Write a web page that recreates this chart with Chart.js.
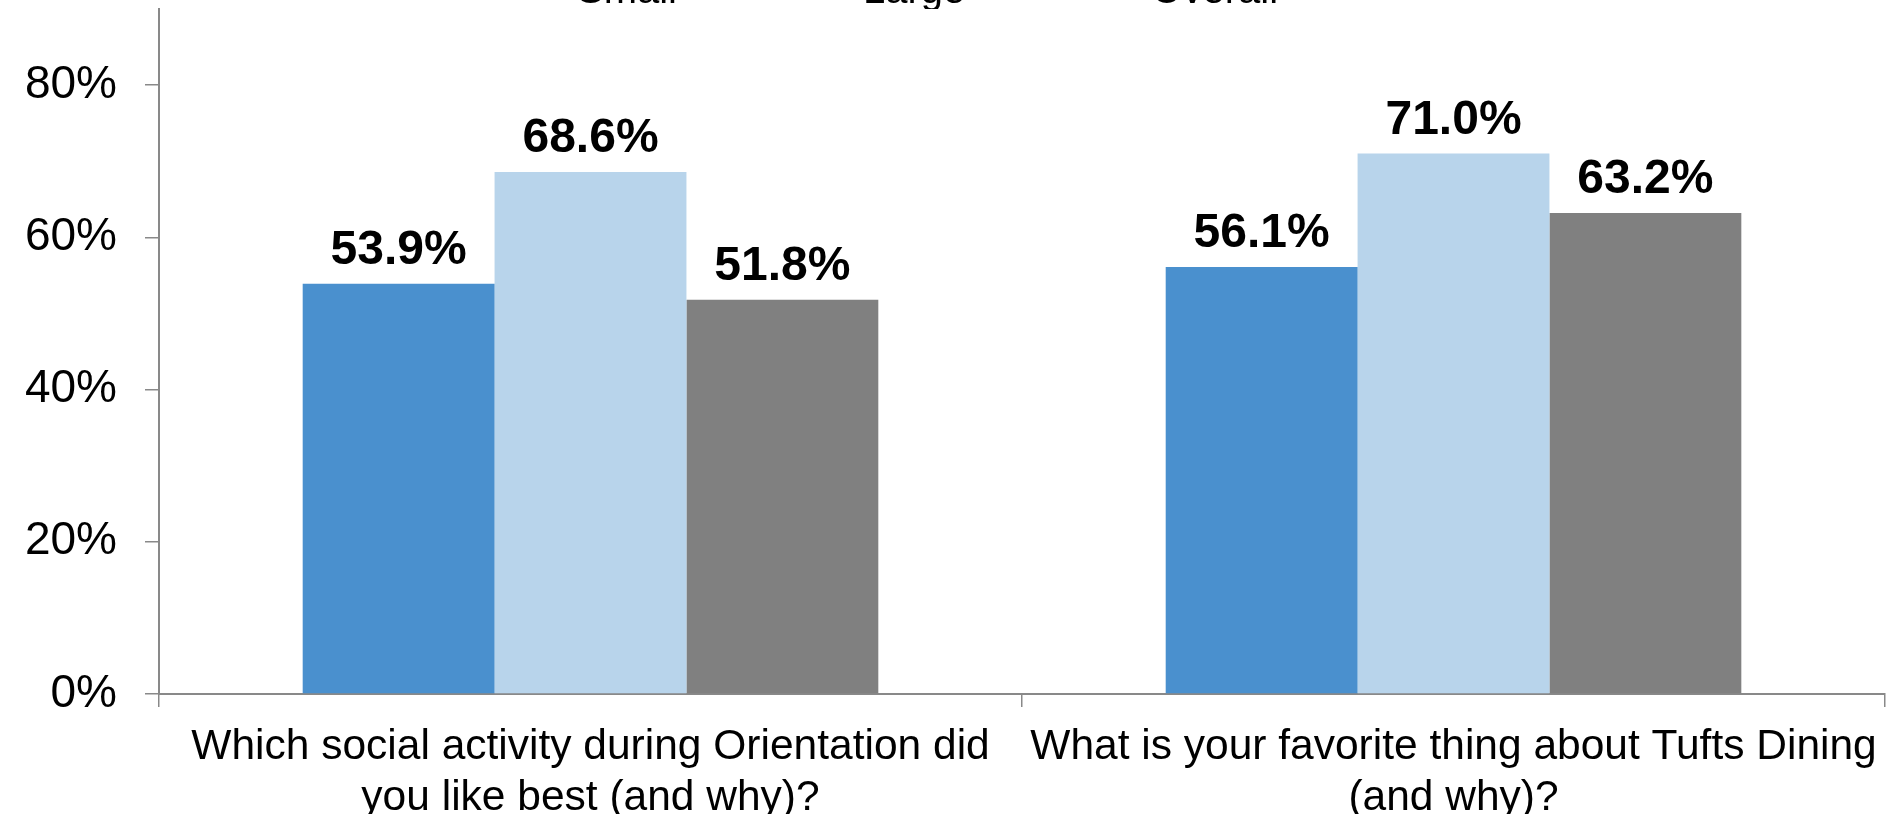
<!DOCTYPE html>
<html>
<head>
<meta charset="utf-8">
<script src="https://cdn.jsdelivr.net/npm/chart.js@4"></script>
<style>
  html, body { margin: 0; padding: 0; background: #fff; overflow: hidden; width: 1893px; height: 814px; }
  #wrap { position: relative; width: 1893px; height: 814px; overflow: hidden; }
  /* canvas pushed up/left so the legend sits mostly above the page like the original */
  #chart { position: absolute; left: -72px; top: -173px; }
</style>
</head>
<body>
<div id="wrap"><canvas id="chart" width="1965" height="1011"></canvas></div>
<script>
// chart data
const questions = [
    ['Which social activity during Orientation did', 'you like best (and why)?'],
    ['What is your favorite thing about Tufts Dining', '(and why)?']
];
const seriesNames = ['Small', 'Large', 'Overall'];
const smallValues = [53.9, 56.1];
const largeValues = [68.6, 71.0];
const overallValues = [51.8, 63.2];
const yTicks = [0, 20, 40, 60, 80];

const FONT = "'Liberation Sans', Arial, sans-serif";

// Draw the value labels above each bar
const barValueLabels = {
    id: 'barValueLabels',
    afterDatasetsDraw(chart) {
        const ctx = chart.ctx;
        ctx.save();
        ctx.font = 'bold 48px ' + FONT;
        ctx.fillStyle = '#000';
        ctx.textAlign = 'center';
        ctx.textBaseline = 'alphabetic';
        chart.data.datasets.forEach((ds, i) => {
            const meta = chart.getDatasetMeta(i);
            meta.data.forEach((bar, j) => {
                ctx.fillText(ds.data[j].toFixed(1) + '%', bar.x, bar.y - 20);
            });
        });
        ctx.restore();
    }
};

const ctx = document.getElementById('chart').getContext('2d');
const chart = new Chart(ctx, {
    type: 'bar',
    data: {
        labels: questions,
        datasets: [
            { label: seriesNames[0], data: smallValues, backgroundColor: '#4A90CE' },
            { label: seriesNames[1], data: largeValues, backgroundColor: '#B8D4EB' },
            { label: seriesNames[2], data: overallValues, backgroundColor: '#808080' }
        ]
    },
    options: {
        responsive: false,
        animation: false,
        devicePixelRatio: 1,
        layout: { padding: { left: 0, right: 7, top: 0, bottom: 0 } },
        datasets: {
            bar: { categoryPercentage: 0.667, barPercentage: 1.0, borderWidth: 0 }
        },
        plugins: {
            tooltip: { enabled: false },
            legend: {
                position: 'top',
                labels: {
                    color: '#000',
                    font: { family: FONT, size: 40 },
                    boxWidth: 21,
                    boxHeight: 12,
                    padding: 145
                }
            }
        },
        scales: {
            x: {
                grid: { display: true, offset: true, drawOnChartArea: false, tickLength: 13, color: '#898989', lineWidth: 1.5 },
                border: { color: '#898989', width: 2 },
                ticks: {
                    color: '#000',
                    font: { family: FONT, size: 42.5, lineHeight: 1.2 },
                    padding: 14.5,
                    maxRotation: 0,
                    autoSkip: false
                }
            },
            y: {
                min: 0,
                max: 90,
                afterBuildTicks: scale => { scale.ticks = yTicks.map(v => ({ value: v })); },
                afterFit: scale => { scale.width = 231; },
                grid: { display: true, drawOnChartArea: false, tickLength: 14, color: '#898989', lineWidth: 1.5 },
                border: { color: '#898989', width: 2 },
                ticks: {
                    color: '#000',
                    font: { family: FONT, size: 46 },
                    padding: 28,
                    callback: v => v + '%'
                }
            }
        }
    },
    plugins: [barValueLabels]
});

// legend box leaves a fixed gap under it; tighten it so the plot starts near the top edge
const legendFit = chart.legend.fit;
chart.legend.fit = function () {
    legendFit.call(this);
    this.height -= 13;
};
chart.update();
</script>
</body>
</html>
